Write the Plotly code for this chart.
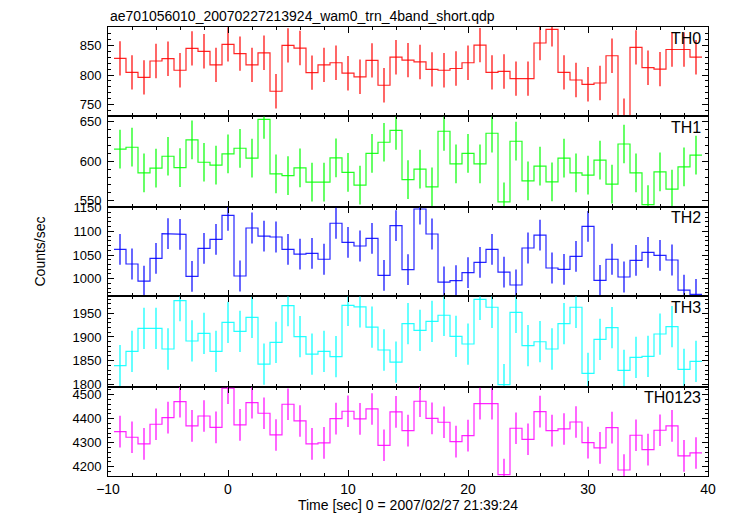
import numpy as np
import plotly.graph_objects as go
from plotly.subplots import make_subplots

# ---- data ----
time_sec = list(range(-9, 40))

th0 = [828, 804.5, 796, 823.6, 827.5, 808, 845, 840, 817, 851.7,
       836, 817, 837.5, 772.6, 850, 845.5, 804, 817, 820.7, 803,
       797, 824.7, 782.7, 830, 825, 822, 809.6, 808, 811, 820.7,
       850.5, 804.5, 806, 793.8, 793.8, 854, 877, 804.5, 791.6, 784.3,
       786.5, 832.5, 731.5, 846.6, 812.3, 810, 843, 843, 830]

th1 = [615.2, 617.7, 585.2, 591.2, 606.3, 592, 626.9, 598.7, 595, 609.2,
       616.4, 603.8, 653, 584, 581.8, 591.5, 573.5, 573.5, 604.2, 586,
       569.7, 610, 624, 639, 576.8, 590, 567.5, 637.9, 596.6, 610,
       596.6, 635.4, 548.6, 625.3, 575.1, 593.7, 573.9, 603.8, 585.2, 582.3,
       601.3, 571, 621.8, 585.2, 545.2, 586.5, 564.6, 592.8, 607.6]

th2 = [1062, 1031, 995, 1043, 1095, 1093.7, 1005, 1064, 1083, 1133.8,
       1005.7, 1107, 1090, 1088, 1062, 1052, 1053.6, 1041, 1117, 1076.8,
       1069, 1085, 1007, 1111.8, 1019, 1147, 1094.3, 993, 995.8, 1012.7,
       1034.6, 1062, 1014, 986.7, 1064.8, 1092, 1022.6, 1019.8, 1047, 1110.5,
       996.6, 1041, 1003.6, 1038.8, 1055.7, 1049.4, 1039.5, 976, 967]

th3 = [1839.5, 1869.8, 1918.3, 1918.3, 1874.7, 1976.6, 1891.6, 1907.7, 1869.8, 1931,
       1912, 1941.5, 1843, 1888.8, 1966, 1900.7, 1864, 1869.8, 1858.5, 1966.8,
       1963.3, 1921, 1872.6, 1847, 1928, 1914, 1933, 1945.8, 1901.5, 1885.2,
       1979.5, 1962.7, 1799.4, 1952, 1881.7, 1890, 1874.7, 1928, 1962.7, 1823.4,
       1895, 1919.6, 1829.7, 1857, 1859, 1906.3, 1921.8, 1831.8, 1848.7]

th0123 = [4345.8, 4322.5, 4294.6, 4376.7, 4404, 4470.8, 4369.6, 4411, 4364, 4526.7,
          4373.8, 4466.7, 4422.5, 4332, 4460, 4390.4, 4294.6, 4298.8, 4400, 4430.8,
          4398.8, 4440.4, 4289, 4428, 4350, 4472.5, 4401.4, 4385, 4304, 4329,
          4462.5, 4462.5, 4166.7, 4360, 4314, 4429, 4350, 4357, 4386, 4300,
          4278, 4362.5, 4186, 4330.8, 4271, 4351.7, 4369.6, 4244.6, 4257]

# typical 1-sigma error per band (counts/sec)
band_errors = [29, 24.5, 32.5, 43.5, 66]
band_names = ["TH0", "TH1", "TH2", "TH3", "TH0123"]
band_colors = ["#ff0000", "#00ff00", "#0000ff", "#00ffff", "#ff00ff"]
y_ranges = [[730, 881], [542.7, 656.6], [962.5, 1152.3], [1795.6, 1985.4], [4161, 4534]]
y_dticks = [50, 50, 50, 50, 100]
y_minor = [10, 10, 10, 10, 20]
bin_width = 1.0

series = [th0, th1, th2, th3, th0123]

title_text = "ae701056010_20070227213924_wam0_trn_4band_short.qdp"
xlabel = "Time [sec] 0 = 2007/02/27 21:39:24"
ylabel = "Counts/sec"

FONT = "Liberation Sans, Arial, Helvetica, sans-serif"

fig = make_subplots(rows=5, cols=1, shared_xaxes=True, vertical_spacing=0)

domains = [[0.8007, 1.0], [0.6002, 0.8007], [0.3998, 0.6002], [0.1993, 0.3998], [0.0, 0.1993]]

t = np.array(time_sec, dtype=float)
for i, vals in enumerate(series):
    v = np.array(vals, dtype=float)
    # step outline (each bin drawn across its width)
    sx = np.column_stack([t - bin_width / 2, t + bin_width / 2]).ravel()
    sy = np.column_stack([v, v]).ravel()
    fig.add_trace(go.Scatter(x=sx, y=sy, mode="lines",
                             line=dict(color=band_colors[i], width=1.2),
                             opacity=0.85, hoverinfo="skip", showlegend=False),
                  row=i + 1, col=1)
    fig.add_trace(go.Scatter(x=t, y=v, mode="markers",
                             marker=dict(size=0.1, color=band_colors[i], opacity=0),
                             error_y=dict(type="constant", value=band_errors[i],
                                          color=band_colors[i], thickness=1.2, width=0),
                             cliponaxis=False,
                             showlegend=False),
                  row=i + 1, col=1)
    axn = "" if i == 0 else str(i + 1)
    fig.update_yaxes(range=y_ranges[i], dtick=y_dticks[i], tick0=0, automargin=False,
                     ticks="inside", ticklen=6, tickcolor="black", ticklabelstandoff=3,
                     minor=dict(dtick=y_minor[i], ticks="inside", ticklen=3, tickcolor="black"),
                     showline=True, linecolor="black", linewidth=1, mirror="ticks",
                     showgrid=False, zeroline=False,
                     tickfont=dict(family=FONT, size=13, color="black"),
                     domain=domains[i], row=i + 1, col=1)
    fig.update_xaxes(range=[-10, 40], dtick=10, tick0=0, automargin=False,
                     ticks="inside", ticklen=6, tickcolor="black",
                     minor=dict(dtick=2, ticks="inside", ticklen=3, tickcolor="black"),
                     showline=True, linecolor="black", linewidth=1, mirror="ticks",
                     showgrid=False, zeroline=False,
                     showticklabels=(i == 4),
                     tickfont=dict(family=FONT, size=14, color="black"),
                     row=i + 1, col=1)
    fig.add_annotation(text=band_names[i], xref="x" + axn + " domain", yref="y" + axn + " domain",
                       x=0.992, y=0.99, xanchor="right", yanchor="top", showarrow=False,
                       font=dict(family=FONT, size=16, color="black"))

fig.update_xaxes(title=dict(text=xlabel, font=dict(family=FONT, size=14, color="black"), standoff=4),
                 row=5, col=1)

fig.add_annotation(text=ylabel, xref="paper", yref="paper", x=-0.115, y=0.5,
                   textangle=-90, showarrow=False, xanchor="center", yanchor="middle",
                   font=dict(family=FONT, size=14, color="black"))
fig.add_annotation(text=title_text, xref="paper", yref="paper", x=0, y=1,
                   xanchor="left", yanchor="bottom", showarrow=False, yshift=1,
                   font=dict(family=FONT, size=14, color="black"))

fig.update_layout(width=730, height=516,
                  margin=dict(l=108, r=22, t=27, b=40, autoexpand=False),
                  plot_bgcolor="white", paper_bgcolor="white",
                  showlegend=False)

fig.write_html("out.html", config={"displayModeBar": False},
               post_script="document.body.style.margin='0';document.body.style.overflow='hidden';")
